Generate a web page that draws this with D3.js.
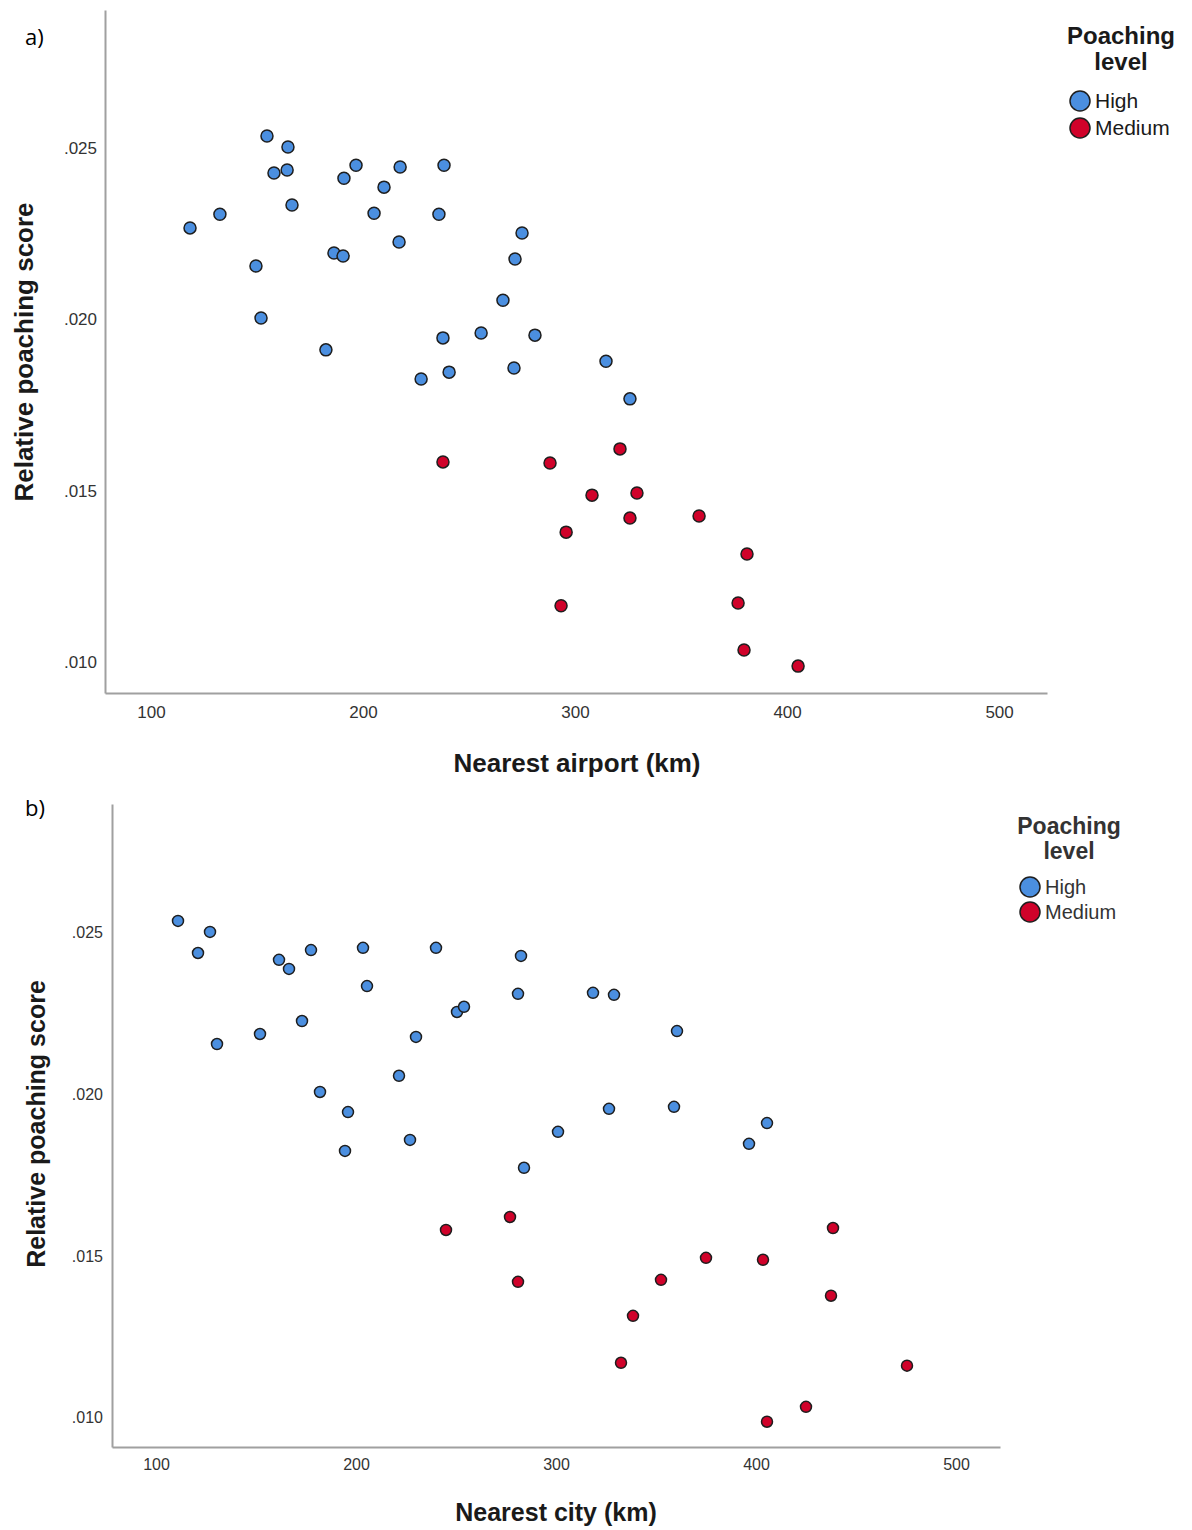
<!DOCTYPE html>
<html>
<head>
<meta charset="utf-8">
<script src="https://cdn.jsdelivr.net/npm/d3@7"></script>
<style>
  body { margin: 0; background: #fff; }
  svg { display: block; }
</style>
</head>
<body>
<div id="chart"></div>
<script>
'use strict'

// panel a) nearest airport
var airportHighKm = [154.7, 164.6, 158.0, 164.2, 166.5, 118.4, 132.5, 149.5, 151.9, 182.5,
  186.3, 190.6, 191.0, 196.7, 209.9, 205.2, 217.5, 217.0, 238.2, 235.8,
  227.4, 237.7, 240.6, 255.7, 266.0, 271.7, 275.0, 271.2, 281.1, 314.6, 325.9]
var airportHighScore = [0.02535, 0.02503, 0.02427, 0.02436, 0.02334, 0.02267, 0.02307, 0.02156, 0.02004, 0.01911,
  0.02194, 0.02185, 0.02412, 0.02450, 0.02386, 0.02310, 0.02445, 0.02226, 0.02450, 0.02307,
  0.01826, 0.01946, 0.01846, 0.01960, 0.02056, 0.02176, 0.02252, 0.01858, 0.01954, 0.01878, 0.01768]
var airportMediumKm = [237.7, 288.2, 321.2, 308.0, 329.2, 325.9, 358.5, 295.8, 381.1, 293.4, 376.9, 379.7, 405.2]
var airportMediumScore = [0.01584, 0.01581, 0.01622, 0.01487, 0.01493, 0.01420, 0.01426, 0.01379, 0.01315, 0.01164,
  0.01172, 0.01035, 0.00988]

// panel b) nearest city
var cityHighKm = [111, 127, 121, 161.5, 166.5, 177.5, 203.5, 240, 205.5, 282.5,
  281, 318.5, 329, 173, 130.5, 152, 230, 250.5, 254, 360.5,
  221.5, 182, 196, 194.5, 227, 301, 284, 326.5, 359, 396.5, 405.5]
var cityHighScore = [0.02534, 0.02500, 0.02435, 0.02414, 0.02386, 0.02444, 0.02451, 0.02451, 0.02333, 0.02426,
  0.02309, 0.02312, 0.02306, 0.02225, 0.02154, 0.02185, 0.02176, 0.02253, 0.02269, 0.02194,
  0.02056, 0.02006, 0.01944, 0.01824, 0.01858, 0.01883, 0.01772, 0.01954, 0.01960, 0.01846, 0.01910]
var cityMediumKm = [245, 277, 281, 338.5, 332.5, 352.5, 375, 403.5, 438.5, 437.5, 475.5, 425, 405.5]
var cityMediumScore = [0.01580, 0.01620, 0.01420, 0.01315, 0.01170, 0.01426, 0.01494, 0.01488, 0.01586, 0.01377,
  0.01161, 0.01034, 0.00988]

var xTicks = [100, 200, 300, 400, 500]
var yTicks = [0.010, 0.015, 0.020, 0.025]
var levels = ['High', 'Medium']
var levelColors = { High: '#4b8fe0', Medium: '#d0022a' }

var svg = d3
  .select('#chart')
  .append('svg')
  .attr('width', 1192)
  .attr('height', 1530)

svg
  .append('rect')
  .attr('width', 1192)
  .attr('height', 1530)
  .attr('fill', '#fff')

function zipPoints(xs, ys, level) {
  return xs.map(function(x, i) {
    return { x: x, y: ys[i], level: level }
  })
}

function drawPanel(p) {
  var x = d3.scaleLinear().domain(p.xDomain).range([p.left, p.right])
  var y = d3.scaleLinear().domain(p.yDomain).range([p.bottom, p.top])
  var fmt = d3.format('.3f')

  var xAxis = d3
    .axisBottom(x)
    .tickValues(xTicks)
    .tickSize(0)
    .tickPadding(p.xPad)
    .tickFormat(d3.format('d'))
  var yAxis = d3
    .axisLeft(y)
    .tickValues(yTicks)
    .tickSize(0)
    .tickPadding(p.yPad)
    .tickFormat(function(d) {
      return fmt(d).replace(/^0/, '')
    })

  var gx = svg
    .append('g')
    .attr('transform', 'translate(0,' + p.bottom + ')')
    .call(xAxis)
  var gy = svg
    .append('g')
    .attr('transform', 'translate(' + p.left + ',0)')
    .call(yAxis)

  ;[gx, gy].forEach(function(g) {
    g.select('.domain')
      .attr('stroke', '#a0a0a0')
      .attr('stroke-width', 2)
    g.selectAll('text')
      .attr('font-family', 'Liberation Sans, Arial, sans-serif')
      .attr('font-size', p.tickFont + 'px')
      .attr('fill', '#333')
  })

  svg
    .append('text')
    .attr('x', p.xTitleX)
    .attr('y', p.xTitleY)
    .attr('text-anchor', 'middle')
    .attr('font-family', 'Liberation Sans, Arial, sans-serif')
    .attr('font-weight', 'bold')
    .attr('font-size', p.titleFont + 'px')
    .attr('fill', '#1a1a1a')
    .text(p.xTitle)

  svg
    .append('text')
    .attr('transform', 'translate(' + p.yTitleX + ',' + p.yTitleY + ') rotate(-90)')
    .attr('text-anchor', 'middle')
    .attr('font-family', 'Liberation Sans, Arial, sans-serif')
    .attr('font-weight', 'bold')
    .attr('font-size', p.titleFont + 'px')
    .attr('fill', '#1a1a1a')
    .text('Relative poaching score')

  svg
    .append('text')
    .attr('x', p.tagX)
    .attr('y', p.tagY)
    .attr('font-family', 'Open Sans, Liberation Sans, sans-serif')
    .attr('font-size', '22px')
    .attr('fill', '#000')
    .text(p.tag)

  svg
    .append('g')
    .selectAll('circle')
    .data(p.points)
    .enter()
    .append('circle')
    .attr('cx', function(d) {
      return x(d.x)
    })
    .attr('cy', function(d) {
      return y(d.y)
    })
    .attr('r', p.r)
    .attr('fill', function(d) {
      return levelColors[d.level]
    })
    .attr('stroke', '#1e1e1e')
    .attr('stroke-width', 1.5)

  // legend
  var lg = svg.append('g').attr('transform', 'translate(' + p.legX + ',' + p.legY + ')')
  ;['Poaching', 'level'].forEach(function(t, i) {
    lg.append('text')
      .attr('x', p.legTitleDx)
      .attr('y', i * p.legTitleGap)
      .attr('text-anchor', 'middle')
      .attr('font-family', 'Liberation Sans, Arial, sans-serif')
      .attr('font-weight', 'bold')
      .attr('font-size', p.legTitleFont + 'px')
      .attr('fill', p.legColor)
      .text(t)
  })
  var item = lg
    .selectAll('g.item')
    .data(levels)
    .enter()
    .append('g')
    .attr('class', 'item')
    .attr('transform', function(d, i) {
      return 'translate(0,' + (p.legItemY + i * p.legItemGap) + ')'
    })
  item
    .append('circle')
    .attr('r', 10)
    .attr('fill', function(d) {
      return levelColors[d]
    })
    .attr('stroke', '#1e1e1e')
    .attr('stroke-width', 1.5)
  item
    .append('text')
    .attr('x', 15)
    .attr('y', 7)
    .attr('font-family', 'Liberation Sans, Arial, sans-serif')
    .attr('font-size', p.legFont + 'px')
    .attr('fill', p.legColor)
    .text(function(d) {
      return d
    })
}

drawPanel({
  tag: 'a)', tagX: 25, tagY: 45,
  left: 105, right: 1047, top: 10, bottom: 693,
  xDomain: [78.3, 522.6], yDomain: [0.009095, 0.02903],
  xPad: 13, yPad: 8, tickFont: 17, titleFont: 26,
  xTitle: 'Nearest airport (km)', xTitleX: 577, xTitleY: 772,
  yTitleX: 33, yTitleY: 352,
  r: 6,
  points: zipPoints(airportHighKm, airportHighScore, 'High')
    .concat(zipPoints(airportMediumKm, airportMediumScore, 'Medium')),
  legX: 1080, legY: 44, legTitleDx: 41, legTitleGap: 26, legTitleFont: 24, legFont: 21,
  legItemY: 57, legItemGap: 27, legColor: '#1a1a1a'
})

drawPanel({
  tag: 'b)', tagX: 25, tagY: 816,
  left: 112, right: 1000, top: 804, bottom: 1447,
  xDomain: [78, 522], yDomain: [0.0091, 0.02895],
  xPad: 12, yPad: 9, tickFont: 16, titleFont: 25,
  xTitle: 'Nearest city (km)', xTitleX: 556, xTitleY: 1521,
  yTitleX: 45, yTitleY: 1124,
  r: 5.5,
  points: zipPoints(cityHighKm, cityHighScore, 'High')
    .concat(zipPoints(cityMediumKm, cityMediumScore, 'Medium')),
  legX: 1030, legY: 834, legTitleDx: 39, legTitleGap: 25, legTitleFont: 23, legFont: 20,
  legItemY: 53, legItemGap: 25, legColor: '#333'
})
</script>
</body>
</html>
